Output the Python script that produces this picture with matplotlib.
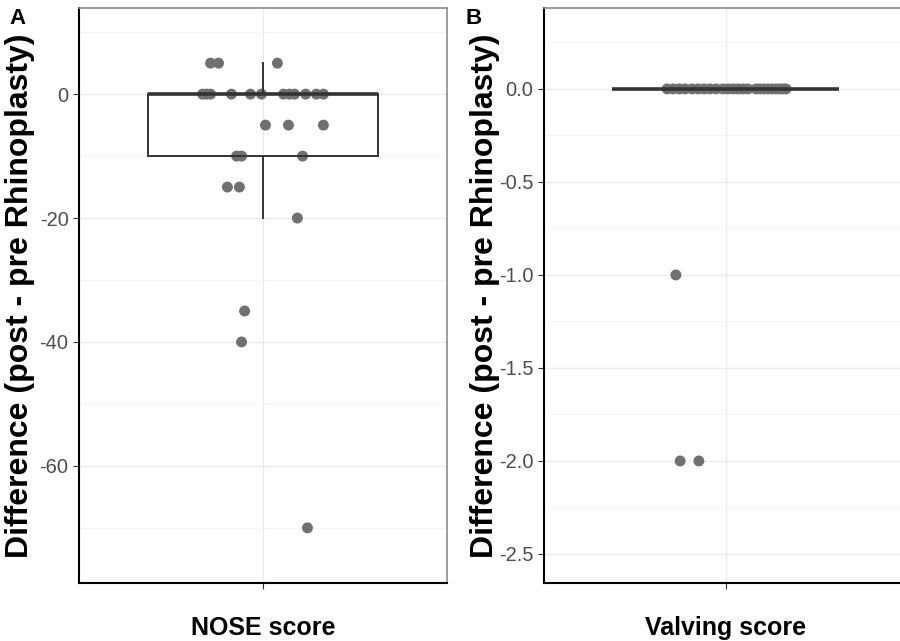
import numpy as np
import matplotlib
matplotlib.use("Agg")
import matplotlib.pyplot as plt
from matplotlib.ticker import MultipleLocator

# NOSE score differences (post - pre) and their horizontal jitter offsets
nose_diff = [5, 5, 5,
             0, 0, 0, 0, 0, 0, 0, 0, 0, 0, 0, 0,
             -5, -5, -5,
             -10, -10, -10,
             -15, -15,
             -20,
             -35, -40, -70]
nose_jitter = [-0.171, -0.145, 0.047,
               -0.197, -0.184, -0.171, -0.103, -0.041, -0.005, 0.067, 0.086, 0.103, 0.139, 0.174, 0.197,
               0.008, 0.083, 0.197,
               -0.086, -0.070, 0.129,
               -0.116, -0.077,
               0.112,
               -0.060, -0.070, 0.145]

# Valving score differences
valv_diff = [0] * 24 + [-1, -2, -2]
valv_jitter = [-0.193, -0.173, -0.153, -0.134,
               -0.111, -0.091, -0.071, -0.051, -0.031,
               -0.008, 0.008, 0.025, 0.041, 0.058, 0.074,
               0.101, 0.114, 0.127, 0.140, 0.154, 0.167, 0.180, 0.190, 0.200,
               -0.164, -0.150, -0.088]

plt.rcParams["font.family"] = ["Liberation Sans", "DejaVu Sans"]

fig = plt.figure(figsize=(9, 6.41), dpi=100)
W, H = 900, 641


def panel(left_px, width_px, label_px, values, jitter, ylim, major, minor, fmt, xlabel):
    ax = fig.add_axes([left_px / W, (H - 583) / H, width_px / W, 575 / H])
    ax.set_xlim(0.4, 1.6)
    ax.set_ylim(*ylim)
    # grid
    ax.yaxis.set_major_locator(MultipleLocator(major))
    ax.yaxis.set_minor_locator(MultipleLocator(minor))
    ax.grid(True, which="major", color="#EBEBEB", linewidth=1.0, zorder=0)
    ax.grid(True, which="minor", axis="y", color="#F2F2F2", linewidth=0.6, zorder=0)
    ax.set_axisbelow(True)

    ax.scatter(1 + np.array(jitter), values, s=62, color="#707070",
               edgecolors="none", zorder=2)
    ax.boxplot([values], positions=[1], widths=0.75, whis=1.5,
               showfliers=False, showcaps=False, patch_artist=True,
               boxprops=dict(facecolor="none", edgecolor="#333333", linewidth=1.4),
               whiskerprops=dict(color="#333333", linewidth=1.4),
               medianprops=dict(color="#333333", linewidth=2.6),
               zorder=3)

    ax.set_xticks([1])
    ax.set_xticklabels([""])
    ax.yaxis.set_major_formatter(fmt)
    ax.tick_params(axis="both", which="major", length=4, color="#333333",
                   labelsize=14.5, labelcolor="#4D4D4D", width=0.8)
    ax.tick_params(axis="y", which="minor", length=0)

    for s in ["top", "right"]:
        ax.spines[s].set_color("#8C8C8C")
        ax.spines[s].set_linewidth(1.2)
    for s in ["left", "bottom"]:
        ax.spines[s].set_color("black")
        ax.spines[s].set_linewidth(1.5)

    ax.set_ylabel("Difference (post - pre Rhinoplasty)", fontsize=23,
                  fontweight="bold")
    ax.yaxis.set_label_coords((label_px - left_px) / width_px, 0.5)
    ax.set_xlabel(xlabel, fontsize=18, fontweight="bold")
    ax.xaxis.set_label_coords(0.5, -0.058)
    return ax


axA = panel(79, 368, 35, nose_diff, nose_jitter, (-78.9, 13.9), 20, 10,
            plt.FuncFormatter(lambda v, _: "{:.0f}".format(v)), "NOSE score")
axB = panel(544, 363, 500, valv_diff, valv_jitter, (-2.656, 0.435), 0.5, 0.25,
            plt.FuncFormatter(lambda v, _: "{:.1f}".format(v)), "Valving score")

fig.text(17 / W, 1 - 18 / H, "A", fontsize=16, fontweight="bold",
         ha="center", va="center")
fig.text(474 / W, 1 - 18 / H, "B", fontsize=16, fontweight="bold",
         ha="center", va="center")

fig.savefig("out.png", dpi=100)
